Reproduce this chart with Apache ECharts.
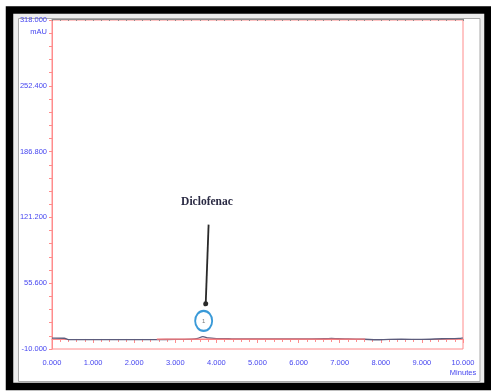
<!DOCTYPE html>
<html>
<head>
<meta charset="utf-8">
<script src="https://cdn.jsdelivr.net/npm/echarts@6/dist/echarts.min.js"></script>
<style>
  html, body { margin: 0; padding: 0; background: #ffffff; }
  #chart { width: 491px; height: 392px; }
</style>
</head>
<body>
<div id="chart"></div>
<script>
// Detector trace (retention time in minutes, absorbance in mAU)
var times = [0.00, 0.30, 0.40, 1.00, 2.00, 2.55, 3.00, 3.40, 3.55, 3.67, 3.80, 4.00, 4.30, 4.50, 5.00, 6.00, 6.65, 6.80, 6.95, 7.20, 7.60, 7.90, 8.20, 8.50, 9.00, 9.50, 9.90, 10.00];
var signal = [0.8, 0.7, -0.6, -0.7, -0.7, -0.6, -0.4, -0.2, 0.6, 2.4, 1.0, 0.4, 0.2, 0.0, 0.0, 0.0, 0.2, 0.5, 0.2, 0.0, -0.3, -0.8, -0.4, -0.3, -0.4, 0.2, 0.5, 1.2];

// Integration baseline drawn under the peak
var baselineTimes = [2.55, 7.62];
var baselineValues = [-0.1, -0.1];

// Axis ticks
var yLabelValues = [-10, 55.6, 121.2, 186.8, 252.4, 318];
var yTickValues = [];
for (var i = 0; i <= 25; i++) yTickValues.push(+(-10 + i * 13.12).toFixed(2));
var xMin = 0, xMax = 10, xStep = 1;
var xUnit = 'Minutes';
var yUnit = 'mAU';

// Peak annotation
var peakName = 'Diclofenac';
var peakNumber = '1';
var peakMarker = [3.69, 18];
var arrowFrom = [3.81, 114];
var arrowTo = [3.74, 35];
var nameAt = [3.77, 137];

var axisRed = '#ff8c8c';
var labelBlue = '#4646f0';

function pairs(xs, ys) {
  return xs.map(function (x, k) { return [x, ys[k]]; });
}

var chart = echarts.init(document.getElementById('chart'), null, { renderer: 'canvas' });

chart.setOption({
  animation: false,
  backgroundColor: '#ffffff',
  graphic: [
    { type: 'rect', z: -10, shape: { x: 13, y: 14, width: 472, height: 369 }, style: { fill: '#ececec' } },
    { type: 'rect', z: -9, shape: { x: 18.5, y: 18.5, width: 461.5, height: 363 }, style: { fill: '#ffffff', stroke: '#a9a9a9', lineWidth: 1 } },
    { type: 'rect', z: 100, shape: { x: 9.5, y: 10, width: 478.5, height: 376.5 }, style: { fill: null, stroke: '#000000', lineWidth: 7.5 } }
  ],
  grid: {
    left: 52, right: 28, top: 20, bottom: 43,
    outerBoundsMode: 'none', containLabel: false,
    show: true, borderColor: axisRed, borderWidth: 1, backgroundColor: 'transparent'
  },
  xAxis: [{
    type: 'value', min: xMin, max: xMax, interval: xStep,
    axisLine: { show: true, lineStyle: { color: axisRed, width: 1 } },
    axisTick: { show: true, length: 4, lineStyle: { color: axisRed } },
    minorTick: { show: true, splitNumber: 5, length: 3, lineStyle: { color: axisRed } },
    splitLine: { show: false },
    axisLabel: { color: labelBlue, fontSize: 7.5, lineHeight: 10, fontFamily: 'Liberation Sans', margin: 9,
      formatter: function (v) { return v === xMax ? v.toFixed(3) + '\n' + xUnit : v.toFixed(3); } }
  }, {
    type: 'value', min: xMin, max: xMax, interval: xStep, position: 'top', offset: 1,
    axisLine: { show: true, lineStyle: { color: '#8a8a8a', width: 1 } },
    axisTick: { show: true, inside: true, length: 2, lineStyle: { color: '#8a8a8a' } },
    minorTick: { show: true, splitNumber: 5, length: 2, lineStyle: { color: '#8a8a8a' } },
    splitLine: { show: false },
    axisLabel: { show: false }
  }],
  yAxis: {
    type: 'value', min: -10, max: 318,
    name: yUnit, nameLocation: 'end', nameGap: -12,
    nameTextStyle: { color: labelBlue, fontSize: 7.5, fontFamily: 'Liberation Sans', align: 'right', verticalAlign: 'middle', padding: [0, 5, 0, 0] },
    axisLine: { show: true, lineStyle: { color: axisRed, width: 1 } },
    axisTick: { show: true, length: 3, customValues: yTickValues, lineStyle: { color: axisRed } },
    splitLine: { show: false },
    axisLabel: { color: labelBlue, fontSize: 7.5, fontFamily: 'Liberation Sans', margin: 5,
      customValues: yLabelValues,
      formatter: function (v) { return v.toFixed(3); } }
  },
  series: [{
    name: 'signal',
    type: 'line',
    data: pairs(times, signal),
    showSymbol: false,
    symbol: 'none',
    smooth: 0.3,
    lineStyle: { color: '#5c5c7c', width: 1.3 },
    z: 3,
    markLine: {
      silent: true,
      symbol: ['none', 'circle'],
      symbolSize: 5,
      label: { show: false },
      lineStyle: { color: '#2a2a2a', width: 1.8, type: 'solid' },
      data: [[{ coord: arrowFrom }, { coord: arrowTo }]]
    },
    markPoint: {
      silent: true,
      data: [{
        coord: nameAt, symbol: 'rect', symbolSize: [1, 1],
        itemStyle: { color: 'rgba(0,0,0,0)' },
        label: { show: true, position: 'inside', formatter: peakName, color: '#2b2b44',
          fontFamily: 'Liberation Serif', fontWeight: 'bold', fontSize: 11.5 }
      }, {
        coord: peakMarker, symbol: 'circle', symbolSize: [17, 20],
        itemStyle: { color: 'rgba(0,0,0,0)', borderColor: '#3a9ad8', borderWidth: 2 },
        label: { show: true, position: 'inside', formatter: peakNumber, color: '#777', fontSize: 6 }
      }]
    }
  }, {
    name: 'baseline',
    type: 'line',
    data: pairs(baselineTimes, baselineValues),
    showSymbol: false,
    symbol: 'none',
    lineStyle: { color: '#ff7c7c', width: 1.3 },
    z: 4
  }]
});
</script>
</body>
</html>
